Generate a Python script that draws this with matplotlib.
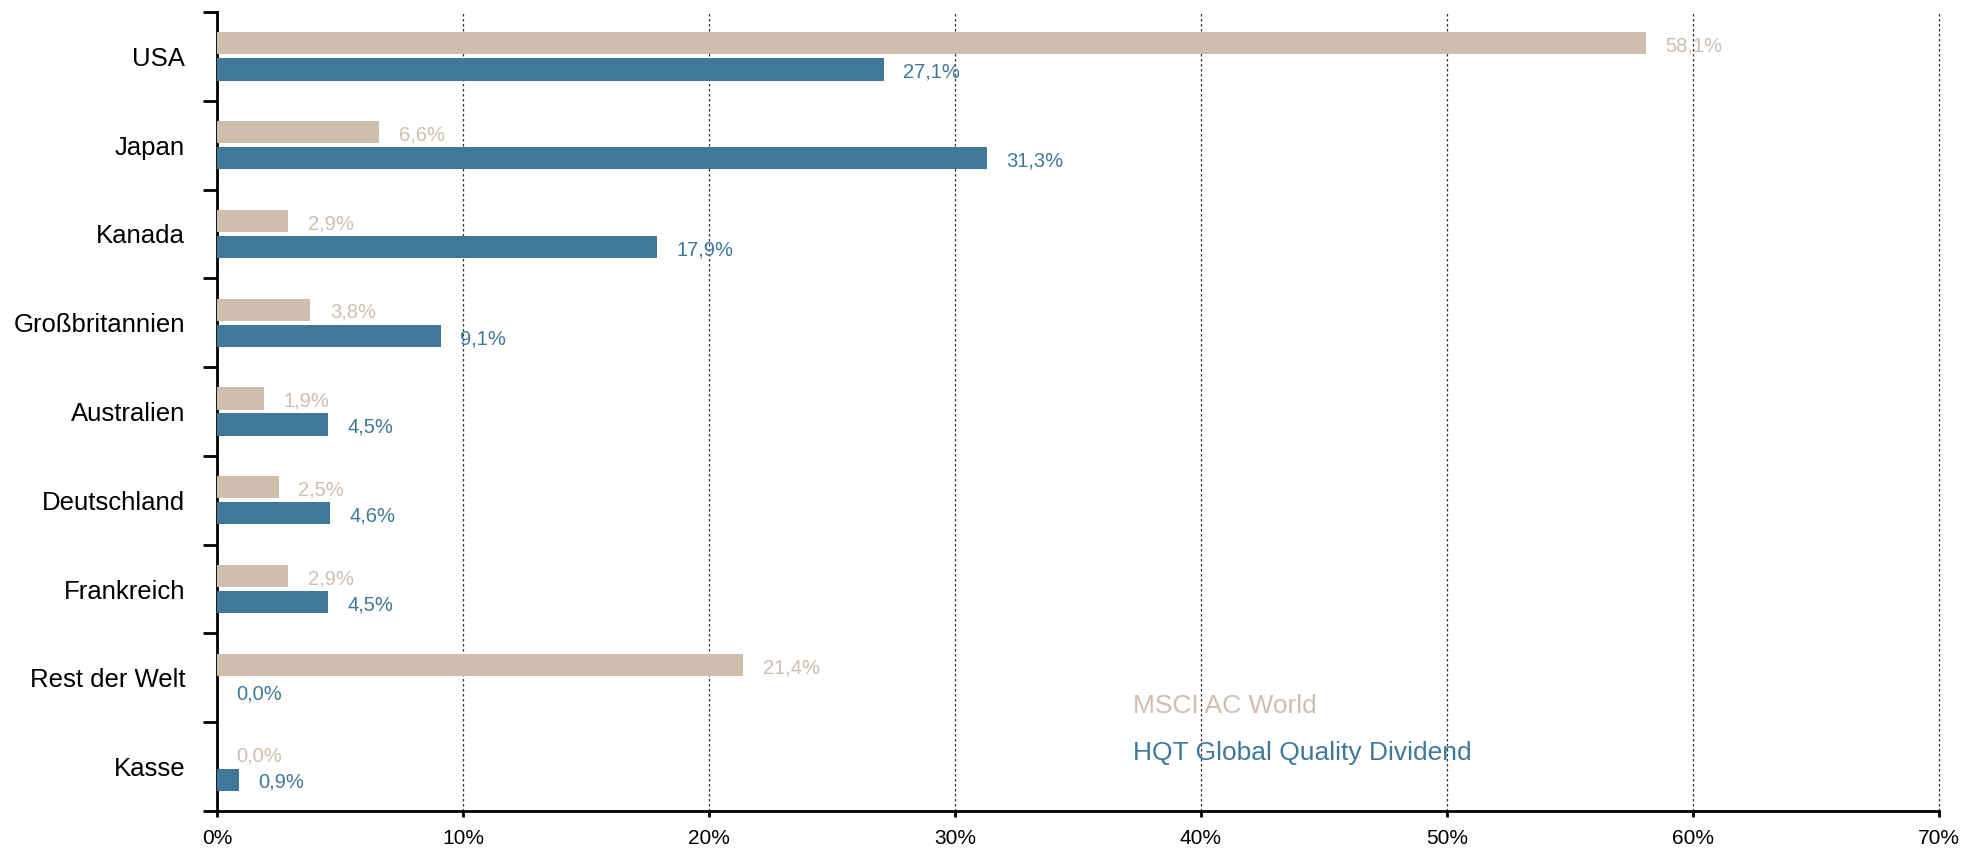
import matplotlib
matplotlib.use("Agg")
import matplotlib.pyplot as plt
import numpy as np
from matplotlib.ticker import FixedLocator, FuncFormatter

categories = ["USA", "Japan", "Kanada", "Großbritannien", "Australien",
              "Deutschland", "Frankreich", "Rest der Welt", "Kasse"]
msci_values = [58.1, 6.6, 2.9, 3.8, 1.9, 2.5, 2.9, 21.4, 0.0]
hqt_values = [27.1, 31.3, 17.9, 9.1, 4.5, 4.6, 4.5, 0.0, 0.9]
series_names = ["MSCI AC World", "HQT Global Quality Dividend"]
x_ticks = [0, 10, 20, 30, 40, 50, 60, 70]

beige = "#CFBEAE"
blue = "#40789A"

plt.rcParams['font.family'] = ['Liberation Sans', 'DejaVu Sans']

fig = plt.figure(figsize=(19.84, 8.49), dpi=100)
ax = fig.add_axes([217/1984, 1-811/849, 1722/1984, 799/849])

y = np.arange(len(categories))
off = 0.147
h = 0.25
ax.barh(y - off, msci_values, height=h, color=beige, zorder=3)
ax.barh(y + off, hqt_values, height=h, color=blue, zorder=3)

def fmt(v):
    return f"{v:.1f}".replace(".", ",") + "%"

for i, (m, q) in enumerate(zip(msci_values, hqt_values)):
    ax.annotate(fmt(m), xy=(m, i - off), xytext=(14, -2), textcoords="offset points",
                ha="left", va="center", color=beige, fontsize=14.5, zorder=4)
    ax.annotate(fmt(q), xy=(q, i + off), xytext=(14, -2), textcoords="offset points",
                ha="left", va="center", color=blue, fontsize=14.5, zorder=4)

ax.set_xlim(0, 70)
ax.set_ylim(len(categories) - 0.5, -0.5)

ax.xaxis.set_major_locator(FixedLocator(x_ticks))
ax.xaxis.set_major_formatter(FuncFormatter(lambda v, p: f"{int(v)}%"))
ax.tick_params(axis="x", direction="out", length=4, width=2, labelsize=15, pad=9)

ax.yaxis.set_major_locator(FixedLocator(np.arange(-0.5, len(categories), 1.0)))
ax.yaxis.set_major_formatter(FuncFormatter(lambda v, p: ""))
ax.yaxis.set_minor_locator(FixedLocator(y))
ax.set_yticklabels(categories, minor=True)
ax.tick_params(axis="y", which="major", direction="out", length=10, width=2)
ax.tick_params(axis="y", which="minor", length=0, labelsize=18.5, pad=23)

for s in ["top", "right"]:
    ax.spines[s].set_visible(False)
for s in ["left", "bottom"]:
    ax.spines[s].set_linewidth(2)

for xv in x_ticks[1:]:
    ax.axvline(xv, color="#333333", linestyle=(0, (2, 2)), linewidth=0.9, zorder=1,
               clip_on=False)

ax.text(0.532, 0.1227, series_names[0], transform=ax.transAxes, color=beige,
        fontsize=19, ha="left", va="baseline")
ax.text(0.532, 0.0638, series_names[1], transform=ax.transAxes, color=blue,
        fontsize=19, ha="left", va="baseline")

fig.savefig("out.png", dpi=100)
